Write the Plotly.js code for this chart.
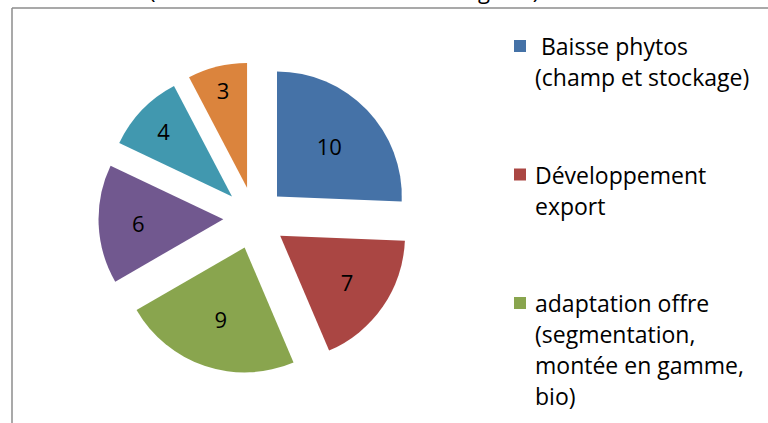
<!DOCTYPE html>
<html><head><meta charset="utf-8">
<script src="https://cdn.plot.ly/plotly-3.0.1.min.js"></script>
<style>html,body{margin:0;padding:0;background:#fff}</style>
</head><body><div id="chart" style="width:768px;height:423px"></div>
<script>
// Data
const categories = [
  " Baisse phytos\n(champ et stockage)",
  "Développement\nexport",
  "adaptation offre\n(segmentation,\nmontée en gamme,\nbio)",
  "Autre levier 4",
  "Autre levier 5",
  "Autre levier 6"
];
const values = [10, 7, 9, 6, 4, 3];
const colors = ["#4572A7", "#AA4643", "#89A54E", "#71588F", "#4198AF", "#DB843D"];
const titleText = "Leviers en hausse ou en baisse (nombre de citations dans les régions)";

const W = 768, H = 423;
const px = x => x / W;
const py = y => 1 - y / H;
const FONT = "Open Sans";

const trace = {
  type: "pie",
  labels: categories.map(c => c.replace(/\n/g, " ")),
  values: values,
  sort: false,
  direction: "clockwise",
  rotation: 0,
  pull: values.map(() => 0.25),
  marker: {colors: colors, line: {width: 0}},
  textinfo: "value",
  textposition: "inside",
  insidetextorientation: "horizontal",
  insidetextfont: {family: FONT, size: 22, color: "#000"},
  hoverinfo: "label+value",
  showlegend: false,
  domain: {x: [px(98), px(411)], y: [py(374), py(62)]}
};

const shapes = [
  {type: "line", xref: "paper", yref: "paper", x0: px(12), x1: px(770), y0: py(8), y1: py(8), line: {color: "#8c8c8c", width: 1.5}},
  {type: "line", xref: "paper", yref: "paper", x0: px(12), x1: px(12), y0: py(8), y1: py(425), line: {color: "#8c8c8c", width: 1.5}}
];
const annotations = [
  {xref: "paper", yref: "paper", x: px(541), y: py(7), xanchor: "right", yanchor: "bottom",
   text: titleText, showarrow: false, font: {family: FONT, size: 22, color: "#000"}}
];

const entryStart = 46, entryGap = 128.5, lineGap = 31;
categories.forEach((c, i) => {
  const yc = entryStart + i * entryGap;
  if (yc > H) return; // entries beyond the frame are not visible
  shapes.push({type: "rect", xref: "paper", yref: "paper",
    x0: px(514), x1: px(526), y0: py(yc - 6), y1: py(yc + 6),
    fillcolor: colors[i], line: {width: 0}});
  c.split("\n").forEach((line, j) => {
    annotations.push({xref: "paper", yref: "paper", x: px(533), y: py(yc + j * lineGap),
      xanchor: "left", yanchor: "middle", text: line.replace(/^ /, "&nbsp;"), showarrow: false,
      font: {family: FONT, size: 23, color: "#000"}});
  });
});

const layout = {
  width: W, height: H,
  margin: {l: 0, r: 0, t: 0, b: 0},
  paper_bgcolor: "#fff",
  showlegend: false,
  shapes: shapes,
  annotations: annotations
};
Plotly.newPlot("chart", [trace], layout, {displayModeBar: false, staticPlot: true});
</script></body></html>
